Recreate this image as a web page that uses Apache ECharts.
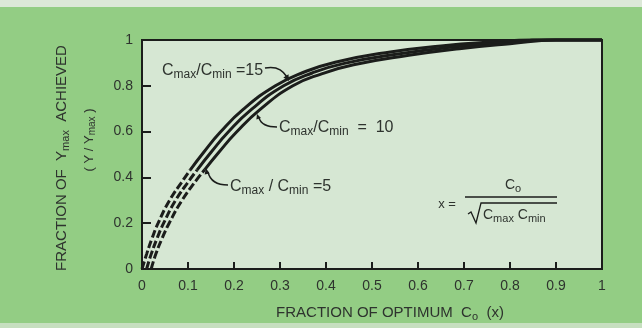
<!DOCTYPE html>
<html>
<head>
<meta charset="utf-8">
<script src="https://cdn.jsdelivr.net/npm/echarts@6/dist/echarts.min.js"></script>
<style>
html,body{margin:0;padding:0;background:#93cd84;}
#c{width:642px;height:328px;}
</style>
</head>
<body>
<div id="c"></div>
<script>
// ---- data ----
const xTickLabels = ['0','0.1','0.2','0.3','0.4','0.5','0.6','0.7','0.8','0.9','1'];
const yTickLabels = ['0','0.2','0.4','0.6','0.8','1'];

// Cmax/Cmin = 15 (upper curve)
const ratio15Dashed = [[0,0],[0.01,0.065],[0.022,0.135],[0.035,0.2],[0.06,0.3],[0.09,0.39],[0.105,0.433]];
const ratio15Solid  = [[0.105,0.433],[0.135,0.512],[0.17,0.597],[0.22,0.697],[0.29,0.8],[0.35,0.858],[0.42,0.903],[0.54,0.948],[0.65,0.974],[0.76,0.991],[0.85,1.0],[1.0,1.0]];
// Cmax/Cmin = 10 (middle curve)
const ratio10Dashed = [[0.01,0],[0.02,0.065],[0.033,0.135],[0.047,0.2],[0.073,0.3],[0.104,0.39],[0.12,0.433]];
const ratio10Solid  = [[0.12,0.433],[0.151,0.512],[0.187,0.597],[0.238,0.697],[0.308,0.8],[0.37,0.856],[0.44,0.898],[0.56,0.94],[0.67,0.968],[0.78,0.987],[0.88,1.0],[1.0,1.0]];
// Cmax/Cmin = 5 (lower curve)
const ratio5Dashed  = [[0.02,0],[0.03,0.065],[0.044,0.135],[0.059,0.2],[0.087,0.3],[0.119,0.39],[0.136,0.433]];
const ratio5Solid   = [[0.136,0.433],[0.168,0.512],[0.205,0.597],[0.257,0.697],[0.328,0.8],[0.392,0.853],[0.46,0.892],[0.58,0.933],[0.69,0.962],[0.8,0.984],[0.9,1.0],[1.0,1.0]];

const INK = '#1b1d1b';
const TXT = '#2e332e';
const FONT = '"Liberation Sans", Arial, sans-serif';

function curve(data, dashed) {
  return {
    type: 'line', data: data, showSymbol: false, smooth: 0.5,
    silent: true, animation: false, clip: false,
    lineStyle: { color: INK, width: 3, type: dashed ? [8, 3] : 'solid', cap: 'butt' }
  };
}

function rich(main) {
  return {
    m: { fontSize: main, fontFamily: FONT, color: TXT, lineHeight: main + 4, verticalAlign: 'middle' },
    s: { fontSize: Math.round(main * 0.75), fontFamily: FONT, color: TXT, lineHeight: main + 4, verticalAlign: 'bottom' }
  };
}

const chart = echarts.init(document.getElementById('c'), null, { renderer: 'canvas' });
chart.setOption({
  animation: false,
  backgroundColor: '#93cd84',
  grid: { left: 142, right: 40, top: 40, bottom: 59, show: true, backgroundColor: '#d6e7d3', borderColor: INK, borderWidth: 2 },
  xAxis: {
    type: 'value', min: 0, max: 1, interval: 0.1,
    axisLine: { show: true, lineStyle: { color: INK, width: 2 } },
    axisTick: { show: true, inside: true, length: 7, lineStyle: { color: INK, width: 2 } },
    splitLine: { show: false },
    axisLabel: { color: TXT, fontSize: 14, fontFamily: FONT, margin: 10,
      formatter: v => xTickLabels[Math.round(v * 10)] }
  },
  yAxis: {
    type: 'value', min: 0, max: 1, interval: 0.2,
    axisLine: { show: true, lineStyle: { color: INK, width: 2 } },
    axisTick: { show: true, inside: true, length: 9, lineStyle: { color: INK, width: 2 } },
    splitLine: { show: false },
    axisLabel: { color: TXT, fontSize: 14, fontFamily: FONT, margin: 9,
      formatter: v => yTickLabels[Math.round(v * 5)] }
  },
  series: [
    curve(ratio15Dashed, true), curve(ratio15Solid, false),
    curve(ratio10Dashed, true), curve(ratio10Solid, false),
    curve(ratio5Dashed, true),  curve(ratio5Solid, false)
  ],
  graphic: [
    { type: 'rect', shape: { x: 0, y: 0, width: 642, height: 7 }, style: { fill: '#dce8d8' }, silent: true },
    { type: 'rect', shape: { x: 0, y: 323, width: 642, height: 5 }, style: { fill: '#c6dfbf' }, silent: true },
    // y axis titles (rotated)
    { type: 'text', x: 62, y: 158, rotation: Math.PI / 2, silent: true, style: { text: '{m|FRACTION OF  Y}{s|max}{m|  ACHIEVED}', rich: rich(15), fill: TXT, align: 'center', verticalAlign: 'middle' } },
    { type: 'text', x: 89, y: 140, rotation: Math.PI / 2, silent: true, style: { text: '{m|( Y / Y}{s|max}{m| )}', rich: rich(13), fill: TXT, align: 'center', verticalAlign: 'middle' } },
    // x axis title
    { type: 'text', x: 390, y: 313, silent: true, style: { text: '{m|FRACTION OF OPTIMUM  C}{s|o}{m|  (x)}', rich: rich(15), fill: TXT, align: 'center', verticalAlign: 'middle' } },
    // curve labels
    { type: 'text', x: 162, y: 71, silent: true, style: { text: '{m|C}{s|max}{m|/C}{s|min}{m| =15}', rich: rich(16), fill: TXT, align: 'left', verticalAlign: 'middle' } },
    { type: 'text', x: 279, y: 128, silent: true, style: { text: '{m|C}{s|max}{m|/C}{s|min}{m|  =  10}', rich: rich(16), fill: TXT, align: 'left', verticalAlign: 'middle' } },
    { type: 'text', x: 230, y: 187, silent: true, style: { text: '{m|C}{s|max}{m| / C}{s|min}{m| =5}', rich: rich(16), fill: TXT, align: 'left', verticalAlign: 'middle' } },
    // leaders
    { type: 'bezierCurve', silent: true, shape: { x1: 265, y1: 68, cpx1: 280, cpy1: 65, x2: 287, y2: 77 }, style: { stroke: INK, lineWidth: 1.5, fill: null } },
    { type: 'polygon', silent: true, shape: { points: [[289, 81], [283.3, 77.5], [288.5, 74.3]] }, style: { fill: INK } },
    { type: 'bezierCurve', silent: true, shape: { x1: 259, y1: 118, cpx1: 262, cpy1: 127, x2: 277, y2: 127 }, style: { stroke: INK, lineWidth: 1.5, fill: null } },
    { type: 'polygon', silent: true, shape: { points: [[257, 114], [261, 117.9], [256.4, 119.5]] }, style: { fill: INK } },
    { type: 'bezierCurve', silent: true, shape: { x1: 208, y1: 172, cpx1: 211, cpy1: 185, x2: 228, y2: 185 }, style: { stroke: INK, lineWidth: 1.5, fill: null } },
    { type: 'polygon', silent: true, shape: { points: [[206, 168], [209.5, 173.4], [204.6, 174.4]] }, style: { fill: INK } },
    // formula
    { type: 'text', x: 447, y: 204, silent: true, style: { text: 'x =', font: '13px ' + FONT, fill: TXT, align: 'center', verticalAlign: 'middle' } },
    { type: 'text', x: 513, y: 185, silent: true, style: { text: '{m|C}{s|o}', rich: rich(14), fill: TXT, align: 'center', verticalAlign: 'middle' } },
    { type: 'line', silent: true, shape: { x1: 465, y1: 197, x2: 557, y2: 197 }, style: { stroke: INK, lineWidth: 1.5 } },
    { type: 'polyline', silent: true, shape: { points: [[468, 214], [471, 212], [476, 223], [481, 203], [557, 203]] }, style: { stroke: INK, lineWidth: 1.3, fill: null } },
    { type: 'text', x: 483, y: 215, silent: true, style: { text: '{m|C}{s|max}{m| C}{s|min}', rich: rich(14), fill: TXT, align: 'left', verticalAlign: 'middle' } }
  ]
});
</script>
</body>
</html>
